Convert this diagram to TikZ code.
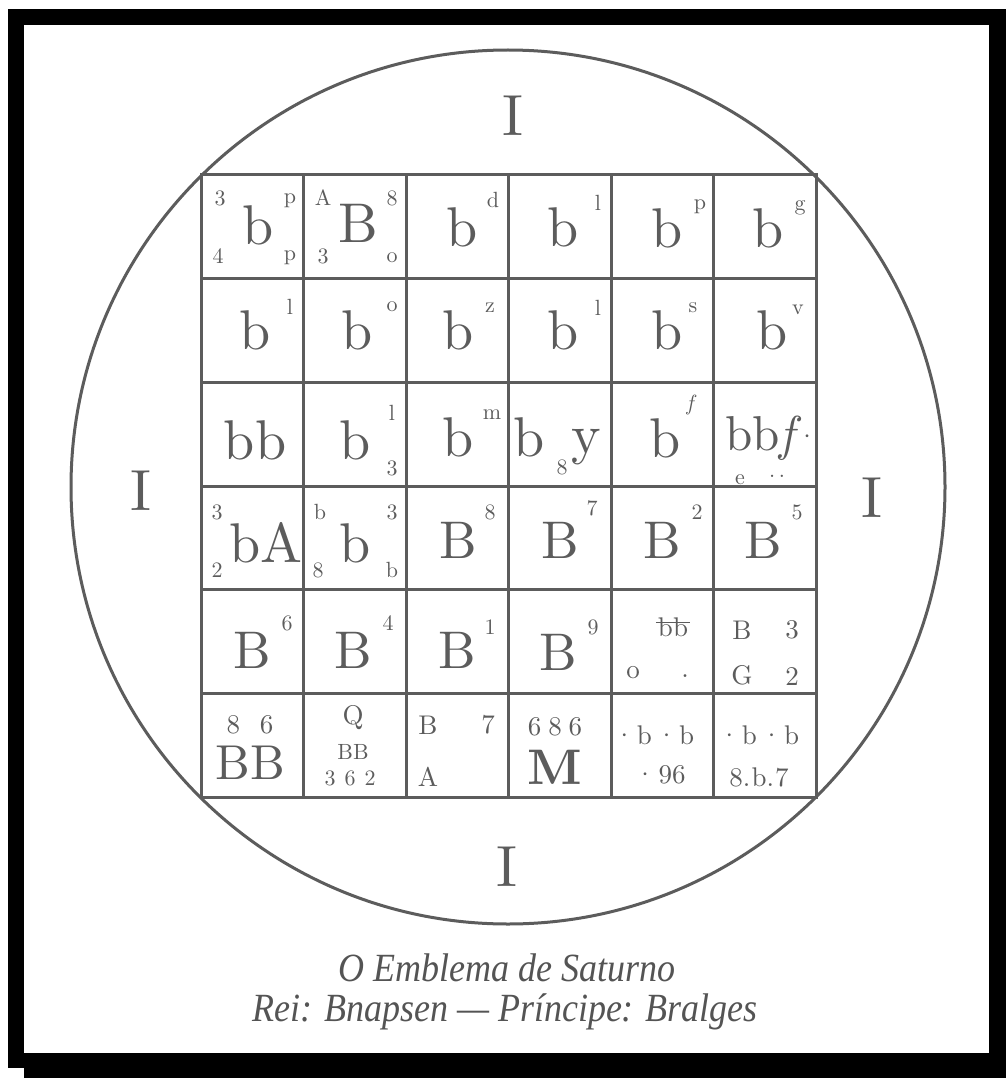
\documentclass[tikz,border=0pt]{standalone}
\usepackage{fontspec}
\newfontfamily\capfont[FakeStretch=0.9]{Liberation Serif}
\newfontfamily\cellfont{lmroman10-regular.otf}[BoldFont=lmroman10-bold.otf, ItalicFont=lmroman10-italic.otf]
\usetikzlibrary{calc}
\definecolor{ink}{gray}{0.36}
\definecolor{capink}{gray}{0.33}

\begin{document}
\begin{tikzpicture}[x=1pt, y=-1pt,
  glyph/.style={text=ink, inner sep=0pt},
  big/.style={glyph, font=\cellfont\fontsize{56}{56}\selectfont},
  bigB/.style={glyph, font=\cellfont\fontsize{53}{53}\selectfont},
  mbig/.style={glyph, font=\cellfont\fontsize{49}{49}\selectfont},
  sup/.style={glyph, font=\cellfont\fontsize{22}{22}\selectfont},
  mid/.style={glyph, font=\cellfont\fontsize{27}{27}\selectfont},
  quarter/.style={glyph, font=\cellfont\fontsize{58}{58}\selectfont},
  gridline/.style={draw=ink, line width=3pt},
  caption/.style={text=capink, inner sep=0pt, font=\capfont\itshape\fontsize{40}{40}\selectfont}]
\useasboundingbox (0,0) rectangle (1006,1078);

% frame with shadow
\fill[black] (8,9) rectangle (1006,1068);
\fill[black] (24,25) rectangle (1006,1078);
\fill[white] (24,25) rectangle (989,1053);

% circle and square
\draw[gridline] (508,487) circle (437pt);
\draw[gridline] (201,175) rectangle (816,797);
\foreach \i in {1,...,5} {
  \draw[gridline] ({201+102.5*\i},175) -- ({201+102.5*\i},797);
  \draw[gridline] (201,{175+103.7*\i}) -- (816,{175+103.7*\i});
}

% the four I
\node[quarter] (itop)    at (513,116) {I};
\node[quarter] (ileft)   at (141,491) {I};
\node[quarter] (iright)  at (872,498) {I};
\node[quarter] (ibottom) at (507,867) {I};

% row 1
\node[sup] (c11tl) at (220,198) {3};
\node[sup] (c11bl) at (218,256) {4};
\node[big] (c11)   at (258,225) {b};
\node[sup] (c11tr) at (290,201) {p};
\node[sup] (c11br) at (290,258) {p};
\node[sup] (c12tl) at (323,198) {A};
\node[big] (c12)   at (358,223) {B};
\node[sup] (c12tr) at (392,198) {8};
\node[sup] (c12bl) at (323,256) {3};
\node[sup] (c12br) at (392,258) {o};
\node[big] (c13) at (462,227) {b};
\node[sup] (c13s) at (493,200) {d};
\node[big] (c14) at (563,227) {b};
\node[sup] (c14s) at (598,203) {l};
\node[big] (c15) at (667,228) {b};
\node[sup] (c15s) at (700,207) {p};
\node[big] (c16) at (768,228) {b};
\node[sup] (c16s) at (800,208) {g};

% row 2
\node[big] (c21) at (255,330) {b};
\node[sup] (c21s) at (290,307) {l};
\node[big] (c22) at (357,330) {b};
\node[sup] (c22s) at (392,307) {o};
\node[big] (c23) at (458,330) {b};
\node[sup] (c23s) at (490,308) {z};
\node[big] (c24) at (563,330) {b};
\node[sup] (c24s) at (598,308) {l};
\node[big] (c25) at (667,330) {b};
\node[sup] (c25s) at (693,308) {s};
\node[big] (c26) at (772,330) {b};
\node[sup] (c26s) at (798,310) {v};

% row 3
\node[big] (c31) at (255,440) {bb};
\node[big] (c32) at (355,440) {b};
\node[sup] (c32tr) at (392,413) {l};
\node[sup] (c32br) at (392,468) {3};
\node[big] (c33) at (458,437) {b};
\node[sup] (c33s) at (492,415) {m};
\node[big] (c34) at (529,437) {b};
\node[sup] (c34s) at (562,467) {8};
\node[big] (c34y) at (586,447) {y};
\node[big] (c35) at (665,438) {b};
\node[sup] (c35s) at (690,405) {\itshape f};
\node[mbig] (c36) at (760,438) {bb\itshape f};
\node[mid] (c36dot) at (807,440) {·};
\node[sup] (c36e) at (740,480) {e};
\node[sup] (c36dd) at (777,476) {.\,.};

% row 4
\node[sup] (c41tl) at (217,512) {3};
\node[sup] (c41bl) at (217,570) {2};
\node[big] (c41) at (266,543) {bA};
\node[sup] (c42tl) at (320,512) {b};
\node[sup] (c42bl) at (318,570) {8};
\node[big] (c42) at (355,543) {b};
\node[sup] (c42tr) at (392,512) {3};
\node[sup] (c42br) at (392,570) {b};
\node[bigB] (c43) at (458,540) {B};
\node[sup] (c43s) at (490,512) {8};
\node[bigB] (c44) at (560,540) {B};
\node[sup] (c44s) at (592,508) {7};
\node[bigB] (c45) at (662,540) {B};
\node[sup] (c45s) at (697,512) {2};
\node[bigB] (c46) at (763,540) {B};
\node[sup] (c46s) at (797,512) {5};

% row 5
\node[bigB] (c51) at (252,650) {B};
\node[sup] (c51s) at (287,623) {6};
\node[bigB] (c52) at (353,650) {B};
\node[sup] (c52s) at (388,623) {4};
\node[bigB] (c53) at (457,650) {B};
\node[sup] (c53s) at (490,627) {1};
\node[bigB] (c54) at (558,652) {B};
\node[sup] (c54s) at (593,627) {9};
\node[mid] (c55) at (673,627) {bb};
\draw[ink, line width=1.5pt] ([xshift=-2pt,yshift=-5pt]c55.north west) -- ([xshift=2pt,yshift=-5pt]c55.north east);
\node[mid] (c55o) at (633,673) {o};
\node[mid] (c55d) at (685,676) {.};
\node[mid] (c56tl) at (742,630) {B};
\node[mid] (c56tr) at (792,630) {3};
\node[mid] (c56bl) at (742,675) {G};
\node[mid] (c56br) at (792,677) {2};

% row 6
\node[mid] (c61t) at (250,725) {8\hspace{20pt}6};
\node[mbig] (c61) at (250,763) {BB};
\node[mid] (c62t) at (353,718) {Q};
\node[sup] (c62m) at (353,752) {BB};
\node[sup] (c62b) at (350,778) {3\hspace{9pt}6\hspace{9pt}2};
\node[mid] (c63tl) at (428,725) {B};
\node[mid] (c63tr) at (488,725) {7};
\node[mid] (c63bl) at (428,777) {A};
\node[mid] (c64t) at (555,727) {6\hspace{7pt}8\hspace{7pt}6};
\node[mbig, font=\cellfont\fontsize{50}{50}\selectfont\bfseries] (c64) at (555,767) {M};
\node[mid] (c65t) at (654,735) {·\hspace{2pt}b\hspace{4pt}·\hspace{2pt}b};
\node[mid] (c65b) at (660,775) {·\hspace{3pt}96};
\node[mid] (c66t) at (759,735) {·\hspace{2pt}b\hspace{4pt}·\hspace{2pt}b};
\node[mid] (c66b) at (759,777) {8.\hspace{1pt}b.\hspace{1pt}7};

% caption
\node[caption] (title) at (507,968) {O Emblema de Saturno};
\node[caption] (kings) at (505,1012) {Rei: Bnapsen — Príncipe: Bralges};
\end{tikzpicture}
\end{document}
